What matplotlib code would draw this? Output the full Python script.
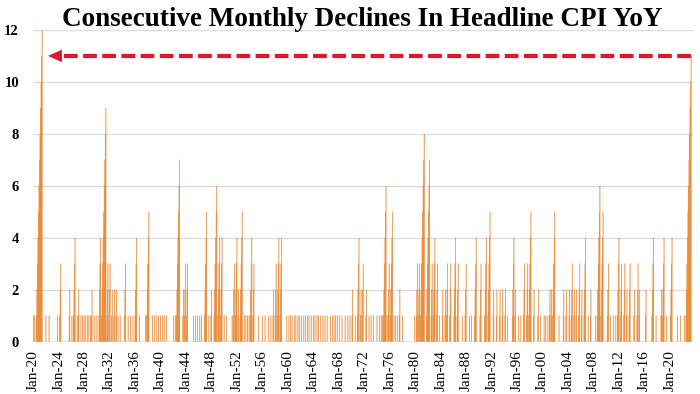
import numpy as np
import pandas as pd
from matplotlib import pyplot as plt

# DATA
# each run of consecutive monthly declines: month it ended and its length
# (a run of n months shows as 1, 2, ..., n)
START = '1920-01'
END = '2023-05'
run_end = ['1920-02', '1920-04', '1921-06', '1922-01', '1922-07', '1923-11', '1924-05',
           '1925-10', '1926-02', '1926-08', '1926-12', '1927-03', '1927-07', '1927-10',
           '1928-01', '1928-04', '1928-07', '1928-10', '1929-01', '1929-04', '1929-09',
           '1930-01', '1930-08', '1931-06', '1931-10', '1932-02', '1932-06', '1932-10',
           '1933-02', '1933-05', '1933-09', '1934-07', '1934-12', '1935-04', '1935-09',
           '1936-04', '1936-09', '1937-09', '1938-03', '1938-10', '1939-02', '1939-06',
           '1939-09', '1940-01', '1940-05', '1940-08', '1940-12',
           '1942-02', '1942-05', '1943-01', '1943-08', '1943-12', '1944-04', '1945-03',
           '1945-07', '1945-11', '1946-03', '1946-06', '1947-04', '1947-08', '1948-01',
           '1948-11', '1949-04', '1949-09', '1950-01', '1950-05', '1951-04', '1951-08',
           '1952-01', '1952-04', '1952-11', '1953-03', '1953-06', '1953-09', '1953-12',
           '1954-05', '1954-09', '1955-06', '1956-01', '1956-06', '1957-01', '1957-05',
           '1957-10', '1958-03', '1958-08', '1959-01', '1959-11',
           '1960-03', '1960-06', '1960-09', '1961-01', '1961-04', '1961-08', '1961-11',
           '1962-03', '1962-07', '1962-10', '1963-02', '1963-05', '1963-09', '1964-01',
           '1964-04', '1964-08', '1964-11', '1965-03', '1965-07', '1965-11', '1966-03',
           '1966-09', '1967-01', '1967-04', '1967-07', '1967-10', '1968-02', '1968-07',
           '1969-01', '1969-06', '1969-10', '1970-03', '1970-08', '1971-03', '1971-07',
           '1971-11', '1972-05', '1972-10', '1973-02', '1973-06', '1974-01', '1974-06',
           '1974-09', '1974-11', '1975-06', '1975-08', '1975-12', '1976-06', '1976-09',
           '1976-12', '1977-04', '1977-08', '1978-01', '1979-12',
           '1980-05', '1980-09', '1981-06', '1982-04', '1982-09', '1983-02', '1983-07',
           '1983-11', '1984-05', '1984-10', '1985-02', '1985-08', '1986-05', '1986-10',
           '1987-06', '1988-01', '1988-07', '1988-11', '1989-08', '1990-05', '1991-03',
           '1991-10', '1992-05', '1992-11', '1993-05', '1993-10', '1994-03', '1994-07',
           '1995-07', '1995-10', '1996-04', '1996-08', '1997-03', '1997-09', '1998-03',
           '1998-09', '1999-05', '1999-09',
           '2000-04', '2000-07', '2000-11', '2001-03', '2001-06', '2001-12', '2002-08',
           '2003-05', '2003-10', '2004-04', '2004-09', '2005-01', '2005-05', '2005-11',
           '2006-03', '2006-10', '2007-03', '2007-08', '2008-05', '2009-01', '2009-07',
           '2010-05', '2010-09', '2011-03', '2011-07', '2012-01', '2012-06', '2012-12',
           '2013-04', '2013-10', '2014-06', '2015-01', '2015-04', '2016-04', '2017-06',
           '2017-11', '2018-09', '2019-02', '2019-07', '2020-05', '2021-03', '2021-09',
           '2022-04', '2023-05']
run_len = [1, 1, 12, 1, 1, 1, 3,
           2, 1, 4, 1, 2, 1, 1,
           1, 1, 1, 1, 1, 2, 1,
           1, 4, 9, 3, 3, 2, 2,
           2, 1, 1, 3, 1, 1, 1,
           4, 1, 1, 5, 1, 1, 1,
           1, 1, 1, 1, 1,
           1, 1, 7, 2, 3, 3, 1,
           1, 1, 1, 1, 5, 1, 2,
           6, 4, 4, 1, 1, 1, 3,
           4, 2, 5, 1, 1, 1, 1,
           4, 3, 1, 1, 1, 1, 1,
           2, 3, 4, 4, 1,
           1, 1, 1, 1, 1, 1, 1,
           1, 1, 1, 1, 1, 1, 1,
           1, 1, 1, 1, 1, 1, 1,
           1, 1, 1, 1, 1, 1, 1,
           1, 1, 1, 2, 1, 4, 2,
           3, 2, 1, 1, 1, 1, 1,
           1, 1, 6, 1, 3, 5, 1,
           1, 1, 2, 1, 1,
           3, 3, 8, 7, 3, 4, 3,
           1, 2, 2, 3, 3, 4, 3,
           1, 3, 1, 1, 4, 3, 4,
           5, 2, 2, 2, 2, 2, 1,
           4, 2, 1, 1, 3, 3, 5,
           2, 2, 1,
           1, 1, 1, 2, 2, 5, 1,
           2, 2, 2, 3, 2, 2, 3,
           2, 4, 1, 2, 1, 6, 5,
           3, 1, 1, 1, 4, 3, 3,
           2, 3, 2, 3, 2, 2, 4,
           1, 2, 4, 1, 4, 1, 1,
           1, 11]
record = 11

TITLE = 'Consecutive Monthly Declines In Headline CPI YoY'
ORANGE = '#E8842A'
RED = '#E2162B'
SERIF = 'Liberation Serif'

months = pd.period_range(START, END, freq='M')
values = np.zeros(len(months))
for end, n in zip(run_end, run_len):
    i = months.get_loc(pd.Period(end, freq='M'))
    values[i - n + 1:i + 1] = np.arange(1, n + 1)
idx = np.arange(len(months))

fig = plt.figure(figsize=(7, 3.94), dpi=100)
ax = fig.add_axes([0.047, 0.133, 0.943, 0.791])

# bars are thinner than a pixel, so give them a thin edge to keep them visible
ax.bar(idx, values, width=1.0, color=ORANGE, edgecolor=ORANGE, linewidth=0.15,
       snap=False, zorder=2)

# dashed arrow at the record level
tip = 28
ax.plot([idx[-1], tip + 12], [record, record], color=RED, lw=3,
        dashes=(3.3, 1.3), solid_capstyle='butt', dash_capstyle='butt', zorder=3)
ax.annotate('', xy=(tip, record), xytext=(tip + 28, record),
            arrowprops=dict(arrowstyle='-|>,head_length=1.0,head_width=0.45',
                            mutation_scale=10, color=RED, lw=0,
                            shrinkA=0, shrinkB=0), zorder=4)

ax.set_xlim(-0.5, 1243.5)
ax.set_ylim(0, 12)
ax.set_yticks(range(0, 13, 2))
ticks = idx[::48]
ax.set_xticks(ticks)
ax.set_xticklabels([months[i].strftime('%b-%y') for i in ticks], rotation=90,
                   fontsize=11, family=SERIF)
for lab in ax.get_yticklabels():
    lab.set_family(SERIF)
    lab.set_fontsize(10.5)
    lab.set_fontweight('bold')
ax.tick_params(axis='both', length=0)
ax.tick_params(axis='y', pad=10)
ax.tick_params(axis='x', pad=6)
ax.grid(axis='y', color='#DCDCDC', lw=1, zorder=0)
for s in ax.spines.values():
    s.set_visible(False)

fig.text(0.518, 1 - 19 / 394, TITLE, family=SERIF, fontweight='bold', fontsize=19.5,
         ha='center', va='center')

fig.savefig('out.png', dpi=100)
